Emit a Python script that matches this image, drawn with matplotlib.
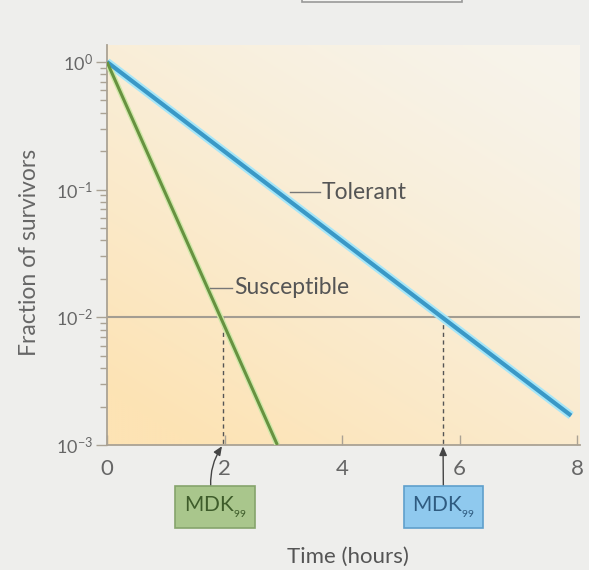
import numpy as np
import matplotlib
matplotlib.use("Agg")
import matplotlib.pyplot as plt
from matplotlib.colors import to_rgb
from matplotlib.patches import Rectangle

plt.rcParams['font.family'] = ['Lato', 'DejaVu Sans']

# ---- data ----
tolerant_t = [0.0, 7.9]
tolerant_f = [1.0, 1.7e-3]
susceptible_t = [0.0, 2.9]
susceptible_f = [1.0, 1.0e-3]
threshold = 1e-2
mdk_susceptible = 1.97
mdk_tolerant = 5.72
x_ticks = [0, 2, 4, 6, 8]
y_ticks = [1e0, 1e-1, 1e-2, 1e-3]
y_tick_labels = [r'$\mathregular{10^{0}}$', r'$\mathregular{10^{-1}}$',
                 r'$\mathregular{10^{-2}}$', r'$\mathregular{10^{-3}}$']

W, H = 589, 570
fig = plt.figure(figsize=(W / 100, H / 100), dpi=100)
fig.patch.set_facecolor('#eeeeec')

# axes in pixel layout
x0, x1 = 107, 580
ytop, ybot = 45, 445
ax = fig.add_axes([x0 / W, 1 - ybot / H, (x1 - x0) / W, (ybot - ytop) / H])
ax.set_yscale('log')
ax.set_xlim(0, (x1 - x0) / 58.75)
ax.set_ylim(1e-3, 10 ** ((62 - ytop) / 128))

# gradient background
ny, nx = 200, 200
xx, yy = np.meshgrid(np.linspace(0, 1, nx), np.linspace(0, 1, ny))
t = np.clip(0.55 * (1 - xx) + 0.75 * (1 - yy), 0, 1.2) / 1.2
t = t ** 1.3
c_hi = np.array(to_rgb('#f7f4ec'))
c_lo = np.array(to_rgb('#fde3b4'))
img = c_hi[None, None, :] * (1 - t[..., None]) + c_lo[None, None, :] * t[..., None]
ax.imshow(img, extent=[0, 1, 0, 1], origin='lower', transform=ax.transAxes,
          aspect='auto', zorder=0, interpolation='bilinear')
ax.set_facecolor('none')

for s in ['top', 'right']:
    ax.spines[s].set_visible(False)
for s in ['left', 'bottom']:
    ax.spines[s].set_color('#aaa294')
    ax.spines[s].set_linewidth(1.3)

# threshold line
ax.axhline(threshold, color='#a39d92', lw=1.5, zorder=2)

# dashed MDK lines
for m in [mdk_susceptible, mdk_tolerant]:
    ax.plot([m, m], [threshold, 1e-3], ls=(0, (3, 2.5)), color='#555555', lw=1.0, zorder=2)

# curves
ax.plot(tolerant_t, tolerant_f, color='#a6e6f8', lw=6, solid_capstyle='butt', zorder=3)
ax.plot(tolerant_t, tolerant_f, color='#3a98c6', lw=3, solid_capstyle='butt', zorder=4)
ax.plot(susceptible_t, susceptible_f, color='#cfe8a8', lw=4.2, solid_capstyle='butt', zorder=3)
ax.plot(susceptible_t, susceptible_f, color='#679240', lw=2.2, solid_capstyle='butt', zorder=4)

# labels with leader lines
lab_fs = 16.5
ax.plot([3.11, 3.62], [10 ** -1.02, 10 ** -1.02], color='#777777', lw=1.0, zorder=5)
ax.text(3.66, 10 ** -1.02, 'Tolerant', fontsize=lab_fs, color='#555555', va='center', ha='left', zorder=5)
ax.plot([1.75, 2.12], [10 ** -1.77, 10 ** -1.77], color='#777777', lw=1.0, zorder=5)
ax.text(2.16, 10 ** -1.77, 'Susceptible', fontsize=lab_fs, color='#555555', va='center', ha='left', zorder=5)

# ticks
ax.set_xticks(x_ticks)
ax.set_xticklabels([str(v) for v in x_ticks])
ax.set_yticks(y_ticks)
ax.set_yticklabels(y_tick_labels)
ax.tick_params(axis='x', direction='in', length=7, width=1.0, color='#aaa294',
               labelsize=16, labelcolor='#666666', pad=10)
ax.tick_params(axis='y', which='major', direction='out', length=8, width=1.0, color='#aaa294',
               labelsize=13, labelcolor='#666666', pad=2)
ax.tick_params(axis='y', which='minor', direction='out', length=5, width=1.0, color='#aaa294')

fig.text(30 / W, 1 - 252 / H, 'Fraction of survivors', fontsize=16.5, color='#666666',
         rotation=90, ha='center', va='center')
fig.text(348 / W, 1 - 557 / H, 'Time (hours)', fontsize=16, color='#555555',
         ha='center', va='center')

# MDK boxes with arrows
box_y = H - 507
mdk_label = r'MDK$_{_{\mathregular{99}}}$'
ax.annotate(mdk_label, xy=(mdk_susceptible, 1.0e-3),
            xytext=(215, box_y), textcoords='figure pixels',
            ha='center', va='center', fontsize=15, color='#3e5c2a',
            bbox=dict(boxstyle='square,pad=0.4', fc='#a9c68c', ec='#86a46c', lw=1.2),
            arrowprops=dict(arrowstyle='-|>,head_length=0.35,head_width=0.15', color='#444444',
                            lw=1.0, shrinkA=0, shrinkB=1,
                            connectionstyle='arc3,rad=-0.25'),
            annotation_clip=False, zorder=6)
ax.annotate(mdk_label, xy=(mdk_tolerant, 1.0e-3),
            xytext=(443.5, box_y), textcoords='figure pixels',
            ha='center', va='center', fontsize=15, color='#2f5b80',
            bbox=dict(boxstyle='square,pad=0.4', fc='#8fc9ee', ec='#5f9fcc', lw=1.2),
            arrowprops=dict(arrowstyle='-|>,head_length=0.35,head_width=0.15', color='#444444',
                            lw=1.0, shrinkA=0, shrinkB=1),
            annotation_clip=False, zorder=6)

# partial box at very top
fig.patches.append(Rectangle((302 / W, 1 - 1.5 / H), (462 - 302) / W, 0.05,
                             transform=fig.transFigure, fc='#f4f4f2', ec='#999999', lw=1.2))

fig.savefig('out.png', dpi=100, facecolor=fig.get_facecolor())
